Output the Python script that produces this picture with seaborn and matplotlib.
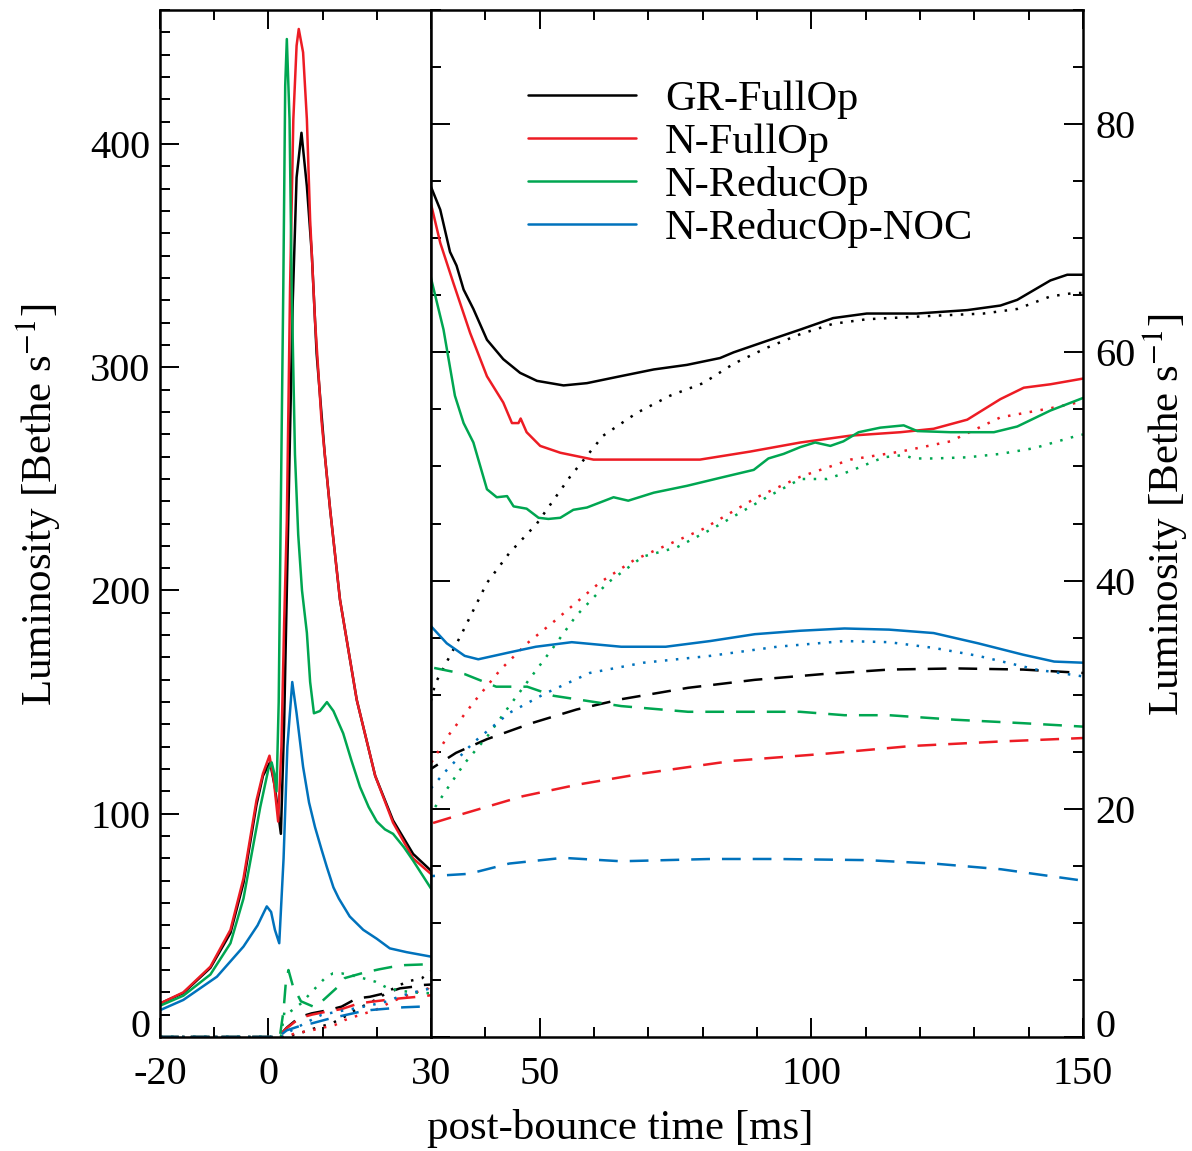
import numpy as np
import pandas as pd
import matplotlib
matplotlib.use("Agg")
import matplotlib.pyplot as plt
from matplotlib.ticker import MultipleLocator, FixedLocator
from matplotlib.lines import Line2D
from matplotlib.transforms import ScaledTranslation
import seaborn as sns

# ---------------- data (post-bounce time [ms], luminosity [Bethe/s]) ----------------
MODELS = ["GR-FullOp", "N-FullOp", "N-ReducOp", "N-ReducOp-NOC"]
COLORS = ["#000000", "#ED1C24", "#00A651", "#0072BC"]
FLAVORS = ["nu_e", "anti_nu_e", "nu_x"]

# GR-FullOp
gr_e_t = [-20, -15.7, -10.7, -7, -4.6, -2.2, -1, 0.3, 1.2, 2.3, 2.9, 3.4, 3.9, 4.5, 5.2, 6.1, 7.1, 8, 8.9, 10.4,
          11.4, 13.2, 16.3, 19.7, 23, 26.7, 30, 31.7, 33.5, 34.7, 36, 37.8, 40.3, 43.3, 46.4, 49.5, 54.4, 58.7,
          64.8, 71, 77.1, 83.2, 85.7, 91.8, 98, 104, 110.2, 119.4, 128.7, 134.8, 137.9, 144, 147.1, 150]
gr_e_L = [15, 19.7, 31, 46.6, 69, 104, 117, 123, 112, 91, 140, 200, 260, 330, 385, 405, 381, 351, 306, 261,
          236, 196, 151, 117, 97, 82, 74.5, 72.5, 68.8, 67.6, 65.5, 63.8, 61.1, 59.4, 58.2, 57.5, 57.1, 57.3,
          57.9, 58.5, 58.9, 59.5, 60, 61, 62, 63, 63.4, 63.4, 63.7, 64.1, 64.6, 66.3, 66.8, 66.8]
gr_a_t = [-20, 2.5, 5, 8, 11.7, 14, 16, 18, 20.3, 22.5, 25.5, 28.3, 30, 30.8, 35.4, 40.3, 44.4, 49.5, 55.6,
          61.7, 67.9, 74, 80.1, 85.7, 91.8, 98, 104, 110.2, 122.5, 131.7, 137.9, 144, 148.3, 150]
gr_a_L = [0, 0, 1, 3.5, 6.1, 9, 12, 14.5, 17.3, 21, 24.8, 26.3, 29.5, 31, 35.1, 39.8, 42.4, 45, 49.1,
          52.7, 54.7, 56.2, 57.3, 59, 60.4, 61.6, 62.5, 62.9, 63.2, 63.4, 63.8, 64.9, 65.2, 65.2]
gr_x_t = [-20, 1.8, 3.4, 5.8, 8, 11, 13.5, 16.3, 18.7, 21.5, 24.3, 26.7, 28.6, 30, 34.6, 40.3, 48.5, 56.8,
          65, 77.3, 89.6, 102, 114.3, 126.6, 139, 150]
gr_x_L = [0, 0, 4.2, 9, 10.6, 12, 13.6, 17.3, 18, 19.6, 21.8, 22.5, 23.3, 23.5, 24.9, 26.1, 27.5, 28.7,
          29.6, 30.6, 31.3, 31.8, 32.2, 32.3, 32.2, 31.9]

# N-FullOp
nf_e_t = [-20, -15.7, -10.7, -7, -4.6, -2.2, -1, 0.2, 1, 1.8, 2.4, 2.9, 3.4, 4, 4.6, 5.2, 5.6, 6.4, 7.1, 7.7,
          8.6, 9.8, 11.4, 13.2, 16.3, 19.7, 23, 26.7, 30, 31.7, 34.1, 37.2, 40.3, 43.3, 44.9, 46.1, 46.5, 47.6,
          50.1, 53.8, 59.9, 71, 79.5, 88.7, 98, 107.2, 116.4, 122.5, 128.7, 134.8, 139.1, 144, 150]
nf_e_L = [15, 20, 31.5, 48, 71, 106, 118, 126, 115, 96.5, 130, 185, 231, 336, 411, 444, 451.5, 441, 411, 366,
          321, 276, 236, 196, 151, 117, 96, 80, 73, 69.6, 66.1, 61.7, 57.9, 55.6, 53.8, 53.8, 54.2, 53,
          51.8, 51.2, 50.6, 50.6, 50.6, 51.3, 52.1, 52.7, 53, 53.3, 54.1, 55.9, 56.9, 57.2, 57.7]
nf_a_t = [-20, 2.5, 3.6, 4.9, 8, 12.3, 14.1, 17, 19.7, 22.7, 26, 29.5, 30, 33, 37.8, 42.8, 47.7, 52.6, 61,
          67.4, 71.5, 80, 90, 98, 107.2, 116.4, 125.6, 134.8, 144, 150]
nf_a_L = [0, 0, 0.5, 1.6, 3, 5.4, 7.6, 10, 12, 15.8, 19, 21.8, 24, 26.3, 29.3, 32.2, 34.5, 36.4, 39.8,
          41.8, 42.7, 44.5, 47.3, 49.1, 50.6, 51.3, 52.2, 54.3, 55.1, 55.7]
nf_x_t = [-20, 1.8, 3.4, 5.8, 8, 11, 13.5, 16.6, 19, 21.8, 24.3, 27.5, 30, 36.2, 46.9, 56.8, 69.1, 85.5,
          102, 118.4, 134.9, 150]
nf_x_L = [0, 0, 4, 8.5, 10, 11.5, 12.5, 15, 15.8, 16.6, 17.3, 18, 18.7, 19.6, 21.1, 22.1, 23.1, 24.2,
          24.8, 25.5, 25.9, 26.2]

# N-ReducOp
nr_e_t = [-20, -15.7, -10.7, -7, -4.6, -1.5, 0, 0.6, 1.1, 1.5, 1.9, 2.26, 2.75, 3.1, 3.4, 3.9, 4.3, 4.9, 5.5,
          6.2, 7.1, 7.7, 8.4, 9.5, 10.8, 12, 13.8, 15.3, 16.9, 18.5, 20, 21.5, 23, 25, 26.7, 30, 32.3, 34.4,
          36, 37.8, 40.3, 42.1, 44, 45.2, 47.6, 49.8, 51.6, 53.8, 56.2, 58.7, 63.6, 66.3, 71, 77.1, 83.2,
          89.4, 92.1, 94.9, 98, 100.7, 103.5, 105.9, 108.7, 112.7, 117, 119.5, 125.6, 133.6, 137.9, 144, 150]
nr_e_L = [14, 18.5, 28, 42, 62, 103, 120, 123, 118, 110, 150, 231, 336, 426, 447, 411, 336, 261, 225,
          200, 181, 159, 145, 146, 150, 146, 136, 124, 112, 103, 96.5, 93, 91, 85, 79, 66.5, 62, 56.2,
          53.8, 52.1, 48, 47.3, 47.4, 46.5, 46.3, 45.5, 45.4, 45.5, 46.2, 46.4, 47.3, 47, 47.7, 48.3, 49,
          49.7, 50.7, 51.1, 51.7, 52.1, 51.8, 52.2, 53, 53.4, 53.6, 53.1, 53, 53, 53.5, 54.9, 56]
nr_a_t = [-20, 2.3, 3, 4, 6, 8.9, 10.4, 11.9, 13.5, 15.4, 17.5, 19.7, 22.1, 25, 27.7, 30, 32.9, 36.2, 40.3,
          44.4, 48.5, 52.6, 56.7, 62.5, 69, 75.2, 82, 91.8, 98, 102.9, 107.2, 113.3, 117, 118.8, 122.5,
          128.7, 134.8, 141, 149, 150]
nr_a_L = [0, 0, 12, 11.3, 15, 22.5, 26.3, 28.5, 28.5, 27.6, 26.3, 24.8, 21.8, 20.5, 19.8, 19.6, 21.7, 24,
          26.3, 29, 31.6, 34.2, 36.9, 39.8, 42.1, 42.9, 44.6, 47.3, 48.9, 48.9, 49.6, 50.8, 51, 50.7, 50.7,
          50.8, 51.1, 51.6, 52.7, 52.8]
nr_x_t = [-20, 2.1, 2.8, 3.2, 3.7, 4.5, 6, 8.3, 9.8, 12.6, 14.1, 17.6, 20.4, 22.8, 25.2, 28.6, 30, 36.2, 42,
          47.7, 52.6, 65, 77.3, 89.6, 97.9, 106.1, 114.3, 126.6, 139, 150]
nr_x_L = [0, 0, 12, 24, 30, 23, 16, 13.6, 15.8, 22, 26.4, 28.8, 30.3, 31.4, 32.2, 32.5, 32.4, 31.8, 30.7,
          30.7, 29.9, 29, 28.5, 28.5, 28.5, 28.2, 28.2, 27.8, 27.5, 27.2]

# N-ReducOp-NOC
nn_e_t = [-20, -15.7, -9.5, -4.6, -2, -0.3, 0.5, 1.2, 2, 2.8, 3.5, 4.4, 5.2, 6.4, 7.5, 8.6, 9.8, 10.8, 12, 13,
          15, 17.5, 20, 22.4, 25.5, 30, 32.9, 36.2, 38.7, 44.4, 49.3, 55.9, 65, 73.2, 81.4, 89.6, 97.9,
          106.1, 114.3, 122.5, 130.7, 139, 144.7, 150]
nn_e_L = [12, 16.6, 27, 40.5, 50, 58.5, 56, 48, 42, 80, 130, 159, 145, 121, 105, 94, 84, 76, 67, 62,
          54, 48, 44, 39.7, 38, 36, 34.5, 33.4, 33.1, 33.7, 34.2, 34.6, 34.2, 34.2, 34.7, 35.3, 35.6,
          35.8, 35.7, 35.4, 34.5, 33.5, 32.9, 32.8]
nn_a_t = [-20, 2.5, 4.3, 7, 9.8, 13, 16, 19, 22, 24, 26.1, 28.6, 30, 32.9, 37.8, 44.4, 51, 59.2, 69.1, 81.4,
          93.7, 106.1, 114.3, 122.5, 130.7, 141.4, 150]
nn_a_L = [0, 0, 3, 6.5, 9.9, 11.5, 12.8, 14.3, 16, 18, 19.6, 21, 21.8, 23.4, 25.8, 28.4, 30.1, 31.9, 32.8,
          33.4, 34.2, 34.7, 34.6, 34.1, 33.4, 32.2, 31.6]
nn_x_t = [-20, 1.8, 3.4, 6.4, 8, 11.7, 13.6, 16.9, 19, 22.4, 24.9, 28, 30, 37, 44.4, 54.3, 65, 81.4, 93.7,
          110.2, 122.5, 134.9, 150]
nn_x_L = [0, 0, 3, 5.4, 6.1, 8.5, 9.5, 11.3, 12.1, 12.8, 13.3, 13.6, 14.1, 14.3, 15.2, 15.7, 15.4, 15.6,
          15.6, 15.5, 15.2, 14.7, 13.7]

X_LEFT_TICKS = [-20, 0]
X_RIGHT_TICKS = [30, 50, 100, 150]
Y_LEFT_TICKS = [0, 100, 200, 300, 400]
Y_RIGHT_TICKS = [0, 20, 40, 60, 80]

# ---------------- build long table ----------------
series = [
    ("GR-FullOp", "nu_e", gr_e_t, gr_e_L), ("GR-FullOp", "anti_nu_e", gr_a_t, gr_a_L), ("GR-FullOp", "nu_x", gr_x_t, gr_x_L),
    ("N-FullOp", "nu_e", nf_e_t, nf_e_L), ("N-FullOp", "anti_nu_e", nf_a_t, nf_a_L), ("N-FullOp", "nu_x", nf_x_t, nf_x_L),
    ("N-ReducOp", "nu_e", nr_e_t, nr_e_L), ("N-ReducOp", "anti_nu_e", nr_a_t, nr_a_L), ("N-ReducOp", "nu_x", nr_x_t, nr_x_L),
    ("N-ReducOp-NOC", "nu_e", nn_e_t, nn_e_L), ("N-ReducOp-NOC", "anti_nu_e", nn_a_t, nn_a_L), ("N-ReducOp-NOC", "nu_x", nn_x_t, nn_x_L),
]
frames = [pd.DataFrame({"model": m, "flavor": f, "t": t, "L": L}) for m, f, t, L in series]
df = pd.concat(frames, ignore_index=True)

# ---------------- style ----------------
sns.set_theme(style="ticks")
plt.rcParams["font.family"] = ["Liberation Serif", "DejaVu Serif"]
plt.rcParams["mathtext.fontset"] = "stix"
plt.rcParams["text.color"] = "black"
plt.rcParams["axes.labelcolor"] = "black"
plt.rcParams["xtick.color"] = "black"
plt.rcParams["ytick.color"] = "black"

W, H = 1192, 1151
fig = plt.figure(figsize=(W / 100, H / 100), dpi=100)
x0, x1, x2 = 160, 431, 1083
ytop, ybot = 10, 1037
ax1 = fig.add_axes([x0 / W, 1 - ybot / H, (x1 - x0) / W, (ybot - ytop) / H])
ax2 = fig.add_axes([x1 / W, 1 - ybot / H, (x2 - x1) / W, (ybot - ytop) / H])

palette = dict(zip(MODELS, COLORS))
dashes = {"nu_e": "", "anti_nu_e": (1, 3.4), "nu_x": (7.5, 4.8)}

for ax in (ax1, ax2):
    sns.lineplot(data=df, x="t", y="L", hue="model", style="flavor", hue_order=MODELS,
                 style_order=FLAVORS, palette=palette, dashes=dashes, estimator=None,
                 sort=True, lw=1.8, legend=False, ax=ax)
    ax.set_xlabel("")
    ax.set_ylabel("")
    for sp in ax.spines.values():
        sp.set_linewidth(1.8)
        sp.set_color("black")
        sp.set_visible(True)

ax1.set_xlim(-20, 30)
ax1.set_ylim(0, 460)
ax2.set_xlim(30, 150)
ax2.set_ylim(0, 90)

TS = 29
ax1.set_xticks(X_LEFT_TICKS, labels=[str(v) for v in X_LEFT_TICKS])
ax1.xaxis.set_minor_locator(FixedLocator([-10, 10, 20]))
ax1.set_yticks(Y_LEFT_TICKS, labels=[str(v) for v in Y_LEFT_TICKS])
ax1.yaxis.set_minor_locator(MultipleLocator(10))
ax1.tick_params(which="both", direction="in", top=True, bottom=True, left=True, right=False,
                colors="black", labelsize=TS)
ax1.tick_params(which="major", length=14, width=1.4)
ax1.tick_params(which="minor", length=7, width=1.4)
ax1.tick_params(axis="x", pad=14)
ax1.tick_params(axis="y", pad=7)

ax2.set_xticks(X_RIGHT_TICKS, labels=[str(v) for v in X_RIGHT_TICKS])
ax2.xaxis.set_minor_locator(FixedLocator([40, 60, 70, 80, 90, 110, 120, 130, 140]))
ax2.set_yticks(Y_RIGHT_TICKS, labels=[str(v) for v in Y_RIGHT_TICKS])
ax2.yaxis.set_minor_locator(MultipleLocator(5))
ax2.tick_params(which="both", direction="in", top=True, bottom=True, left=True, right=True,
                labelleft=False, labelright=True, colors="black", labelsize=TS)
ax2.tick_params(which="major", length=14, width=1.4)
ax2.tick_params(which="minor", length=7, width=1.4)
ax2.tick_params(axis="x", pad=14)
ax2.tick_params(axis="y", pad=9)

# raise the "0" y labels slightly (as in the original)
for ax in (ax1, ax2):
    for lab in ax.get_yticklabels():
        if lab.get_text() == "0":
            lab.set_transform(lab.get_transform() + ScaledTranslation(0, 14 / 100, fig.dpi_scale_trans))

LS = 31
fig.text(620 / W, 1 - 1128 / H, "post-bounce time [ms]", ha="center", va="center", fontsize=LS,
         color="black")
fig.text(38 / W, 1 - 505 / H, "Luminosity [Bethe s$^{-1}$]", ha="center", va="center",
         rotation=90, fontsize=LS, color="black")
fig.text(1165 / W, 1 - 515 / H, "Luminosity [Bethe s$^{-1}$]", ha="center", va="center",
         rotation=90, fontsize=LS, color="black")

handles = [Line2D([], [], color=c, lw=1.8) for c in COLORS]
leg = ax2.legend(handles, MODELS, loc="upper left", bbox_to_anchor=(528 / W, 1 - 80 / H),
                 bbox_transform=fig.transFigure, frameon=False, fontsize=30.5, handlelength=2.55,
                 handletextpad=0.68, labelspacing=0.1, borderpad=0, borderaxespad=0)
for txt in leg.get_texts():
    txt.set_color("black")

fig.savefig("out.png", dpi=100)
